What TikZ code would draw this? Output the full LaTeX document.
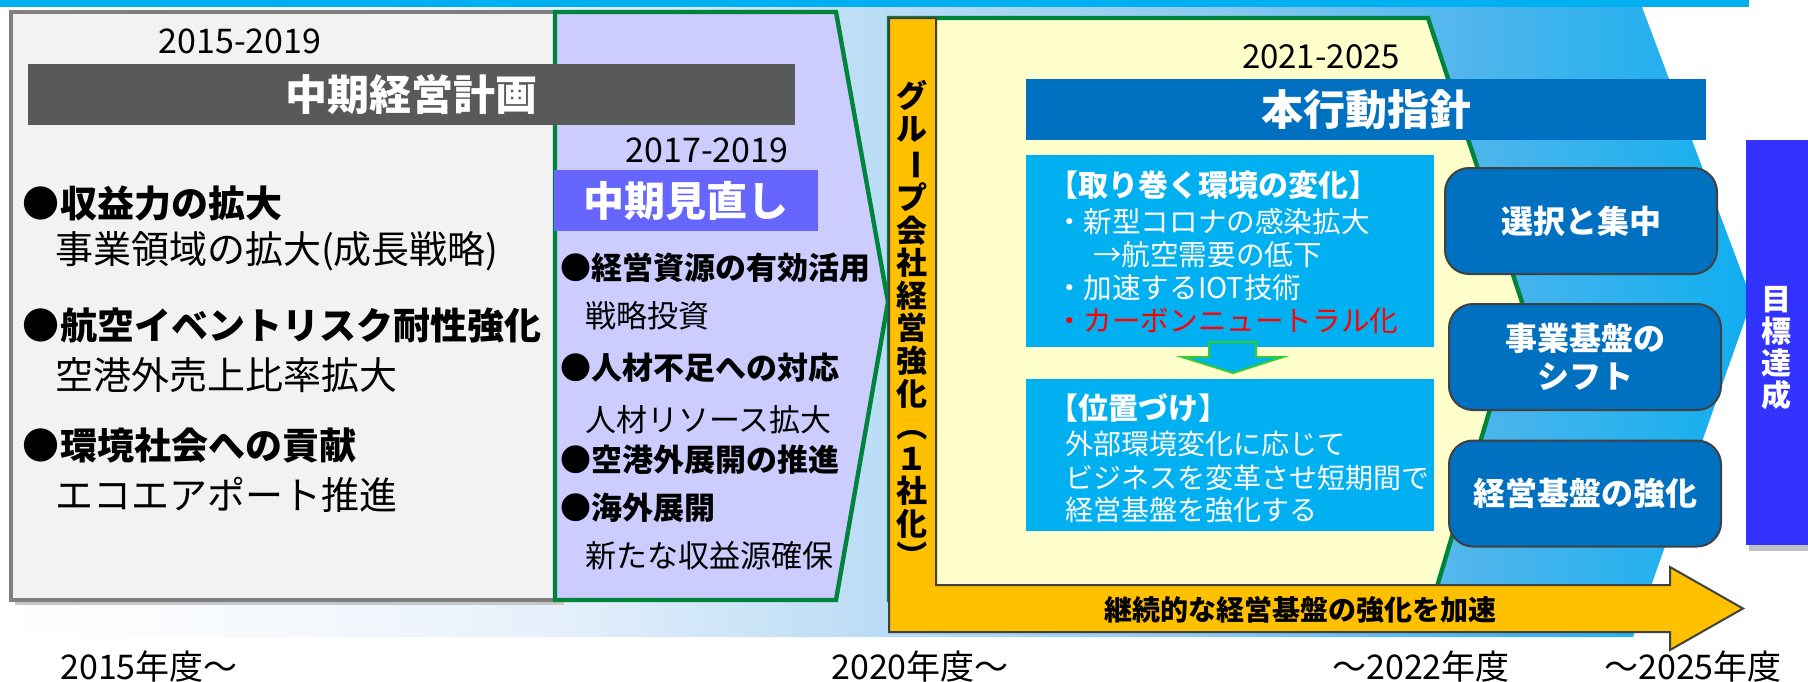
\documentclass[tikz,border=0pt]{standalone}
\usepackage{fontspec}
\setmainfont{Noto Sans CJK JP}
\definecolor{topcyan}{HTML}{00B0F0}
\definecolor{panelgray}{HTML}{F2F2F2}
\definecolor{bordergray}{HTML}{7F7F7F}
\definecolor{lav}{HTML}{CCCCFF}
\definecolor{pgreen}{HTML}{00843C}
\definecolor{lyellow}{HTML}{FFFFCC}
\definecolor{orangeY}{HTML}{FFC000}
\definecolor{darkbar}{HTML}{595959}
\definecolor{midblue}{HTML}{6666FF}
\definecolor{navy}{HTML}{0070C0}
\definecolor{goalblue}{HTML}{3333FF}
\definecolor{limeg}{HTML}{33CC33}
\definecolor{edgegray}{HTML}{404040}
\definecolor{redtxt}{HTML}{FF0000}
\definecolor{bandA}{HTML}{F5F9FD}
\definecolor{bandB}{HTML}{E6F0FB}
\definecolor{bandC}{HTML}{BEDEF6}
\definecolor{bandD}{HTML}{8ECBF1}
\definecolor{bandE}{HTML}{4DB5EC}
\definecolor{bandF}{HTML}{10AEEF}
\pgfdeclarehorizontalshading{bandshade}{100bp}{color(0bp)=(white); color(25bp)=(white); color(33.5bp)=(bandA); color(40.7bp)=(bandB); color(49.3bp)=(bandC); color(59.2bp)=(bandD); color(67.2bp)=(bandE); color(75bp)=(bandF); color(100bp)=(bandF)}
\newcommand{\fsz}[1]{\fontsize{#1}{#1}\selectfont}
\begin{document}
\begin{tikzpicture}[x=0.5pt,y=-0.5pt,
  lbl/.style={inner sep=0pt, outer sep=0pt, text=black},
  yearlbl/.style={lbl, font=\fsz{17}},
  headL/.style={lbl, anchor=west, font=\bfseries\fsz{18.5}},
  subL/.style={lbl, anchor=west, font=\fsz{19}},
  headM/.style={lbl, anchor=west, font=\bfseries\fsz{15.5}},
  subM/.style={lbl, anchor=west, font=\fsz{15.5}},
  cyanhead/.style={lbl, anchor=west, text=white, font=\bfseries\fsz{15}},
  cyantxt/.style={lbl, anchor=west, text=white, font=\fsz{14.3}},
  postxt/.style={lbl, anchor=west, text=white, font=\fsz{14}},
  titlebar/.style={inner sep=0pt, text=white, font=\bfseries\fsz{21}},
  rbox/.style={fill=navy, draw=edgegray, line width=1pt, rounded corners=12pt,
     minimum width=136pt, minimum height=53pt, inner sep=0pt, text=white,
     font=\bfseries\fontsize{16}{19}\selectfont, align=center},
  bottomlbl/.style={lbl, font=\fsz{17}}
]
\useasboundingbox (0,0) rectangle (1808,681);
% background band
\shade[shading=bandshade] (0,7) -- (1642,7) -- (1752,300) -- (1633,637) -- (0,637) -- cycle;
\fill[topcyan] (0,0) rectangle (1749,7);
% left grey panel
\fill[black!22] (15,16) rectangle (564,605);
\filldraw[fill=panelgray, draw=bordergray, line width=2pt] (11,12) rectangle (560,600);
% purple chevron
\filldraw[fill=lav, draw=pgreen, line width=2.2pt, line join=miter] (555,12) -- (836,12) -- (888,302) -- (836,600) -- (555,600) -- cycle;
% plan bar
\node[titlebar, fill=darkbar, minimum width=383.5pt, minimum height=30.5pt] (plan) at (411.5,94.5) {中期経営計画};
% review box
\node[titlebar, fill=midblue, minimum width=132pt, minimum height=30.5pt, font=\bfseries\fsz{20.5}] (review) at (686,200.5) {中期見直し};
% yellow chevron
\filldraw[fill=lyellow, draw=pgreen, line width=2.2pt, line join=miter] (889,600) -- (889,18) -- (1428,18) -- (1522,302) -- (1433,600) -- cycle;
% orange L arrow
\filldraw[fill=orangeY, draw=edgegray, line width=1pt] (889,18) -- (936,18) -- (936,585) -- (1670,585) -- (1670,567) -- (1743,608.5) -- (1670,650) -- (1670,632) -- (889,632) -- cycle;
% policy bar
\node[titlebar, fill=navy, minimum width=340pt, minimum height=30.5pt] (policy) at (1366,109.5) {本行動指針};
% cyan boxes
\fill[topcyan] (1026,155) rectangle (1434,347);
\fill[topcyan] (1026,379) rectangle (1434,531);
\filldraw[fill=topcyan, draw=limeg, line width=1pt] (1209,342) -- (1256,342) -- (1256,357) -- (1283,357) -- (1233,373) -- (1182,357) -- (1209,357) -- cycle;
% right rounded boxes
\node[rbox] (sel) at (1581,221) {選択と集中};
\node[rbox] (shift) at (1585,357) {事業基盤の\\シフト};
\node[rbox] (base) at (1585,493.5) {経営基盤の強化};
% goal box
\fill[black!25] (1749,545) rectangle (1808,551);
\node[fill=goalblue, minimum width=31pt, minimum height=202.5pt, inner sep=0pt] (goal) at (1777,342.5) {};
\node[lbl, text=white, align=center, font=\bfseries\fontsize{15}{16}\selectfont] (goaltxt) at (1776,348.5) {目\\標\\達\\成};
% left texts
\node[yearlbl] (y1519) at (240,41) {2015-2019};
\node[headL] (l1) at (23,204) {●収益力の拡大};
\node[subL] (l1s) at (55,251) {事業領域の拡大(成長戦略)};
\node[headL] (l2) at (23,325) {●航空イベントリスク耐性強化};
\node[subL] (l2s) at (55,375) {空港外売上比率拡大};
\node[headL] (l3) at (23,446) {●環境社会への貢献};
\node[subL] (l3s) at (55,495) {エコエアポート推進};
% middle texts
\node[yearlbl] (y1719) at (707,150) {2017-2019};
\node[headM] (m1) at (560,268) {●経営資源の有効活用};
\node[subM] (m1s) at (585,316) {戦略投資};
\node[headM] (m2) at (560,368) {●人材不足への対応};
\node[subM] (m2s) at (585,420) {人材リソース拡大};
\node[headM] (m3) at (560,460) {●空港外展開の推進};
\node[headM] (m4) at (560,508) {●海外展開};
\node[subM] (m4s) at (585,556) {新たな収益源確保};
% vertical text
\node[lbl, align=center, font=\bfseries\fontsize{15.5}{16.3}\selectfont] (vt) at (912,326) {グ\\ル\\\rotatebox[origin=c]{-90}{ー}\\プ\\会\\社\\経\\営\\強\\化\\\rotatebox[origin=c]{-90}{（}\\１\\社\\化\\\rotatebox[origin=c]{-90}{）}};
% right texts
\node[yearlbl, font=\fsz{16.5}] (y2125) at (1321,57) {2021-2025};
\node[cyanhead] (c1) at (1048,185) {【取り巻く環境の変化】};
\node[cyantxt] (c2) at (1055,222) {・新型コロナの感染拡大};
\node[cyantxt] (c3) at (1093,255) {→航空需要の低下};
\node[cyantxt] (c4) at (1055,288) {・加速するIOT技術};
\node[cyantxt, text=redtxt] (c5) at (1055,321) {・カーボンニュートラル化};
\node[cyanhead] (p1) at (1048,408) {【位置づけ】};
\node[postxt] (p2) at (1065,444) {外部環境変化に応じて};
\node[postxt] (p3) at (1065,478) {ビジネスを変革させ短期間で};
\node[postxt] (p4) at (1065,510) {経営基盤を強化する};
\node[lbl, font=\bfseries\fsz{14}] (arrowtxt) at (1300,610) {継続的な経営基盤の強化を加速};
% bottom labels
\node[bottomlbl] (b2015) at (149,667) {2015年度～};
\node[bottomlbl] (b2020) at (920,667) {2020年度～};
\node[bottomlbl] (b2022) at (1421,667) {～2022年度};
\node[bottomlbl] (b2025) at (1693,667) {～2025年度};
\end{tikzpicture}
\end{document}
